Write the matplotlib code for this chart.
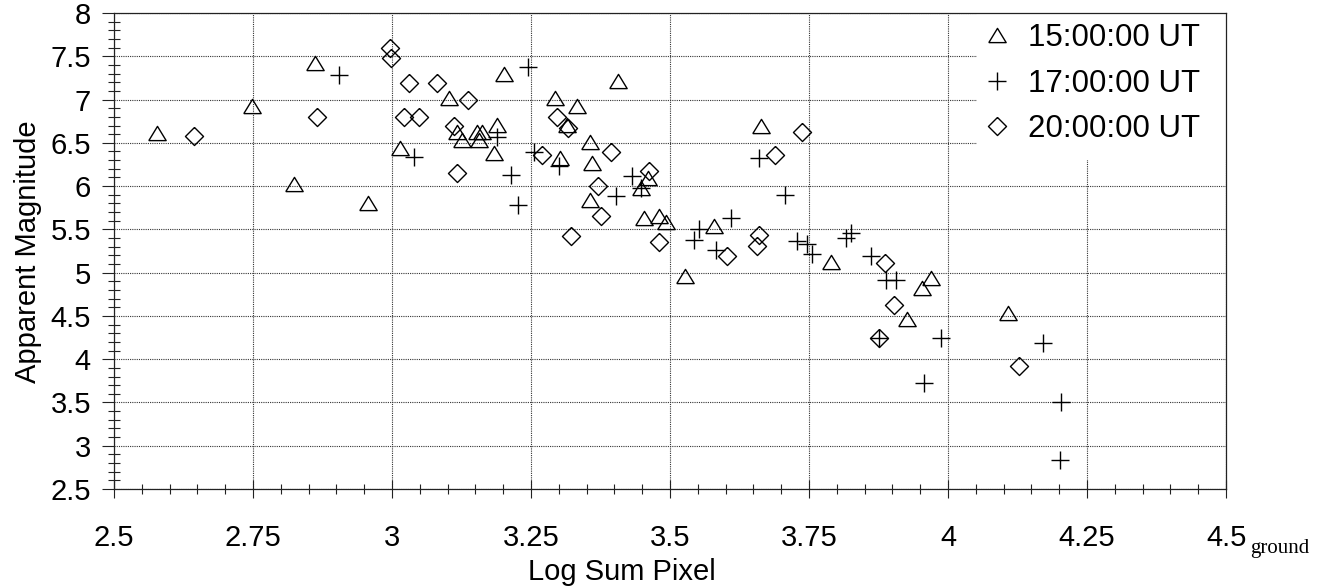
import matplotlib.pyplot as plt
from matplotlib.ticker import MultipleLocator, FuncFormatter
from matplotlib.patches import Rectangle

plt.rcParams['font.family'] = ['Liberation Sans', 'DejaVu Sans']

# 15:00:00 UT
x_15 = [2.577, 2.748, 2.823, 2.862, 2.956, 3.015, 3.102, 3.117, 3.126, 3.153,
        3.162, 3.157, 3.189, 3.183, 3.202, 3.293, 3.332, 3.315, 3.303, 3.356,
        3.360, 3.356, 3.406, 3.460, 3.447, 3.453, 3.480, 3.492, 3.527, 3.579,
        3.664, 3.789, 3.953, 3.969, 3.926, 4.108]
y_15 = [6.61, 6.93, 6.03, 7.42, 5.81, 6.44, 7.02, 6.63, 6.53, 6.63,
        6.63, 6.53, 6.71, 6.38, 7.30, 7.02, 6.92, 6.71, 6.32, 6.51,
        6.27, 5.84, 7.21, 6.09, 5.98, 5.63, 5.65, 5.59, 4.96, 5.54,
        6.70, 5.12, 4.82, 4.94, 4.47, 4.53]

# 17:00:00 UT
x_17 = [2.905, 3.039, 3.189, 3.245, 3.214, 3.226, 3.256, 3.300, 3.432, 3.447,
        3.402, 3.552, 3.543, 3.582, 3.609, 3.660, 3.707, 3.729, 3.747, 3.755,
        3.817, 3.825, 3.862, 3.888, 3.906, 3.875, 3.988, 3.957, 4.170, 4.203,
        4.201]
y_17 = [7.28, 6.34, 6.57, 7.38, 6.13, 5.78, 6.39, 6.23, 6.12, 5.98,
        5.88, 5.51, 5.38, 5.26, 5.63, 6.33, 5.90, 5.36, 5.33, 5.21,
        5.40, 5.46, 5.19, 4.92, 4.92, 4.24, 4.25, 3.72, 4.19, 3.51,
        2.84]

# 20:00:00 UT
x_20 = [2.643, 2.865, 2.996, 2.999, 3.031, 3.081, 3.022, 3.048, 3.136, 3.111,
        3.117, 3.270, 3.296, 3.316, 3.394, 3.370, 3.375, 3.462, 3.321, 3.480,
        3.738, 3.688, 3.660, 3.657, 3.602, 3.887, 3.903, 3.875, 4.128]
y_20 = [6.58, 6.80, 7.60, 7.48, 7.19, 7.19, 6.80, 6.80, 7.00, 6.69,
        6.15, 6.36, 6.80, 6.67, 6.39, 6.00, 5.66, 6.18, 5.42, 5.35,
        6.62, 6.36, 5.43, 5.31, 5.19, 5.11, 4.63, 4.24, 3.92]

labels = ['15:00:00 UT', '17:00:00 UT', '20:00:00 UT']

tri = [(-1, -0.82), (1, -0.82), (0, 0.82), (-1, -0.82)]
dia = [(0, 1), (1, 0), (0, -1), (-1, 0), (0, 1)]

fig = plt.figure(figsize=(13.35, 5.86), dpi=100)
ax = fig.add_axes([0.0854, 0.1655, 0.8330, 0.8123])

style = dict(linestyle='none', color='black', markerfacecolor='none',
             markeredgewidth=1.0, zorder=3)
h1, = ax.plot(x_15, y_15, marker=tri, markersize=12.5, label=labels[0], **style)
h2, = ax.plot(x_17, y_17, marker='+', markersize=13, label=labels[1], **style)
h3, = ax.plot(x_20, y_20, marker=dia, markersize=13, label=labels[2], **style)

ax.set_xlim(2.5, 4.5)
ax.set_ylim(2.5, 8)
ax.xaxis.set_major_locator(MultipleLocator(0.25))
ax.xaxis.set_minor_locator(MultipleLocator(0.05))
ax.yaxis.set_major_locator(MultipleLocator(0.5))
ax.yaxis.set_minor_locator(MultipleLocator(0.1))
fmt = FuncFormatter(lambda v, p: '%g' % v)
ax.xaxis.set_major_formatter(fmt)
ax.yaxis.set_major_formatter(fmt)

ax.tick_params(axis='x', which='major', direction='inout', length=13, width=0.8,
               pad=19, labelsize=21, color='#222')
ax.tick_params(axis='x', which='minor', direction='inout', length=7, width=0.8,
               color='#222')
ax.tick_params(axis='y', which='major', direction='out', length=8.6, width=0.8,
               pad=8, labelsize=21, color='#222')
ax.tick_params(axis='y', which='minor', direction='inout', length=8, width=0.8,
               color='#222')

ax.set_axisbelow(True)
ax.grid(which='major', color='#333333', linewidth=0.8, linestyle=(0, (1, 1)))
for s in ax.spines.values():
    s.set_color('#222222')
    s.set_linewidth(0.9)

# blank area behind the legend
ax.add_patch(Rectangle((0.776, 0.691), 0.224, 0.309, transform=ax.transAxes,
                       facecolor='white', edgecolor='none', zorder=1))

ax.legend(handles=[h1, h2, h3], loc='upper left', bbox_to_anchor=(0.78, 0.979),
          frameon=False, fontsize=22.5, handlelength=1.0, handletextpad=0.5,
          labelspacing=0.5, borderpad=0, borderaxespad=0)

fig.text(28 / 1335, 1 - 252 / 586, 'Apparent Magnitude', rotation=90,
         ha='center', va='center', fontsize=21)
fig.text(622 / 1335, 1 - 580 / 586, 'Log Sum Pixel', ha='center',
         va='baseline', fontsize=21)
fig.text(1250 / 1335, 1 - 553 / 586, 'ground', ha='left', va='baseline',
         fontsize=15, family=['Liberation Serif', 'DejaVu Serif'])

fig.savefig('out.png', dpi=100)
